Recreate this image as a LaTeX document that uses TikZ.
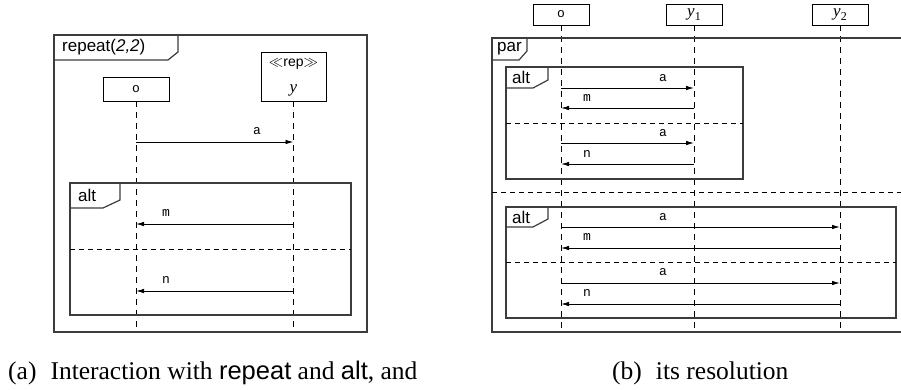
\documentclass[tikz,border=0pt]{standalone}
\usepackage{fontspec}
\setmainfont{Liberation Serif}
\setsansfont{Liberation Sans}
\setmonofont{Liberation Mono}
\usetikzlibrary{arrows.meta, positioning}
\definecolor{sqframe}{RGB}{60, 60, 60}
\newcommand{\yidx}[1]{\textit{y}\raisebox{-0.25em}{\fontsize{12}{12}\selectfont #1}}

\begin{document}
\begin{tikzpicture}[x=1pt, y=-1pt,
    every node/.style={inner sep=0pt},
    head/.style={draw, line width=0.9pt, minimum width=56pt, minimum height=21pt},
    life/.style={line width=0.9pt, dash pattern=on 6pt off 5pt},
    msg/.style={line width=0.9pt, -{Latex[length=8pt, width=4.5pt]}},
    frm/.style={draw=sqframe, line width=1.2pt},
    sep/.style={line width=0.9pt, dash pattern=on 5pt off 4pt},
    tag/.style={font=\sffamily\fontsize{17}{19}\selectfont, anchor=west},
    lbl/.style={font=\ttfamily\fontsize{13}{15}\selectfont},
    captxt/.style={anchor=base west, font=\fontsize{25.5}{28}\selectfont}]
  \useasboundingbox (0,0) rectangle (901,389);

  % LEFT: repeat with alt
  \draw[frm] (54,35) rectangle (367,332);
  \draw[frm] (54,60) -- (168,60) -- (178,52) -- (178,35);
  \node[tag] (trep) at (62,47) {repeat(\textit{2,2})};

  % Lifelines o and y
  \node[head, minimum width=66pt, minimum height=24pt, lbl] (o) at (136,89) {o};
  \node[head, minimum width=65pt, minimum height=49pt] (y) at (293.5,76.5) {};
  \node[font=\sffamily\fontsize{14}{16}\selectfont] (yst) at (293.5,64) {$\ll$rep$\gg$};
  \node[font=\fontsize{17}{19}\selectfont\itshape] (yname) at (293.5,90) {y};
  \coordinate (lbot) at (0,332);
  \draw[life] (o.south) -- (o |- lbot);
  \draw[life] (y.south) -- (y |- lbot);

  % Message a
  \coordinate (la) at (0,142);
  \draw[msg] (o |- la) -- (y |- la);
  \node[lbl] (lba) at (257,131) {a};

  % alt fragment
  \draw[frm] (70,183) rectangle (351,315);
  \draw[frm] (70,208) -- (103,208) -- (120,200) -- (120,183);
  \node[tag] (talt) at (78,195) {alt};
  \coordinate (lm) at (0,224);
  \coordinate (ln) at (0,291);
  \draw[msg] (y |- lm) -- (o |- lm);
  \node[lbl] (lbm) at (166,213) {m};
  \draw[sep] (70,249) -- (351,249);
  \draw[msg] (y |- ln) -- (o |- ln);
  \node[lbl] (lbn) at (166,280) {n};

  % RIGHT: resolution with par
  \node[head, lbl] (o2) at (561,14.5) {o};
  \node[head, font=\fontsize{17}{19}\selectfont] (y1) at (694,14.5) {\yidx{1}};
  \node[head, font=\fontsize{17}{19}\selectfont] (y2) at (840,14.5) {\yidx{2}};
  \foreach \l in {o2, y1, y2}
    \draw[life] (\l.south) -- (\l |- lbot);

  % par frame (runs past the right edge)
  \draw[frm] (910,38) -- (492,38) -- (492,332) -- (910,332);
  \draw[frm] (492,60) -- (519,60) -- (527,51) -- (527,38);
  \node[tag] (tpar) at (497,49) {par};
  \draw[sep] (492,192) -- (910,192);

  % First alt: o and y1
  \draw[frm] (506,67) rectangle (743,179);
  \draw[frm] (506,88) -- (533,88) -- (548,80) -- (548,67);
  \node[tag] (talt1) at (512,77) {alt};
  \draw[sep] (506,123) -- (743,123);
  \foreach \r in {88, 143} {
    \coordinate (ra) at (0,\r);
    \draw[msg] (o2 |- ra) -- (y1 |- ra);
  }
  \foreach \r in {108, 164} {
    \coordinate (rb) at (0,\r);
    \draw[msg] (y1 |- rb) -- (o2 |- rb);
  }
  \node[lbl] (r1a) at (663,78) {a};
  \node[lbl] (r1m) at (587,98) {m};
  \node[lbl] (r1b) at (663,133) {a};
  \node[lbl] (r1n) at (587,154) {n};

  % Second alt: o and y2
  \draw[frm] (506,207) rectangle (896,318);
  \draw[frm] (506,227) -- (533,227) -- (548,219) -- (548,207);
  \node[tag] (talt2) at (512,217) {alt};
  \draw[sep] (506,262) -- (896,262);
  \foreach \r in {227, 283} {
    \coordinate (ra) at (0,\r);
    \draw[msg] (o2 |- ra) -- (y2 |- ra);
  }
  \foreach \r in {248, 304} {
    \coordinate (rb) at (0,\r);
    \draw[msg] (y2 |- rb) -- (o2 |- rb);
  }
  \node[lbl] (r2a) at (663,217) {a};
  \node[lbl] (r2m) at (587,237) {m};
  \node[lbl] (r2b) at (663,272) {a};
  \node[lbl] (r2n) at (587,293) {n};

  % Captions
  \node[captxt] (capa) at (8,379)
    {(a)\hspace{0.55em}Interaction with \textsf{repeat} and \textsf{alt}, and};
  \node[captxt] (capb) at (612,379) {(b)\hspace{0.55em}its resolution};
\end{tikzpicture}
\end{document}
